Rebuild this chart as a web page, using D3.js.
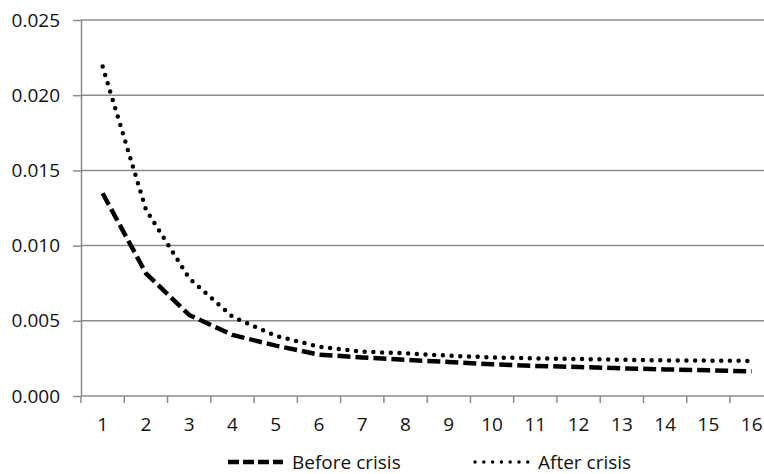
<!DOCTYPE html>
<html>
<head>
<meta charset="utf-8">
<script src="https://cdn.jsdelivr.net/npm/d3@7"></script>
<style>
  body { margin: 0; background: #fff; }
  svg { display: block; font-family: "Open Sans", sans-serif; }
  .grid line { stroke: #8c8c8c; stroke-width: 1.5; }
</style>
</head>
<body>
<div id="chart"></div>
<script>
var periodos = ["1", "2", "3", "4", "5", "6", "7", "8", "9", "10", "11", "12", "13", "14", "15", "16"]
var antesCrisis = [0.01348, 0.00816, 0.00539, 0.00406, 0.00335, 0.00275, 0.00256, 0.00240, 0.00226, 0.00211, 0.00200, 0.00193, 0.00184, 0.00177, 0.00171, 0.00164]
var despuesCrisis = [0.0219, 0.0124, 0.00783, 0.00527, 0.00400, 0.00328, 0.00295, 0.00284, 0.00268, 0.00257, 0.00250, 0.00246, 0.00241, 0.00237, 0.00235, 0.00233]
var ticksY = [0, 0.005, 0.010, 0.015, 0.020, 0.025]
var nombresSeries = ["Before crisis", "After crisis"]

var width = 764,
    height = 474,
    margin = { top: 20, left: 81, bottom: 78 };

// la imagen original esta recortada por la derecha
var x = d3.scaleBand()
    .domain(periodos)
    .range([margin.left, margin.left + 16 * 43.27]);

var y = d3.scaleLinear()
    .domain([0, 0.025])
    .range([height - margin.bottom, margin.top]);

var svg = d3.select("#chart").append("svg")
    .attr("width", width)
    .attr("height", height)

svg.append("g")
    .attr("class", "grid")
    .selectAll("line")
    .data(ticksY.slice(1))
    .enter().append("line")
    .attr("x1", margin.left)
    .attr("x2", width)
    .attr("y1", function (d) { return y(d); })
    .attr("y2", function (d) { return y(d); });

var ejeY = svg.append("g")
    .attr("transform", "translate(" + margin.left + ",0)")
    .call(d3.axisLeft(y).tickValues(ticksY).tickFormat(d3.format(".3f")).tickSizeInner(8).tickSizeOuter(0).tickPadding(13))
ejeY.select(".domain").attr("stroke", "#8c8c8c").attr("stroke-width", 1.5)
ejeY.selectAll(".tick line").attr("stroke", "#8c8c8c").attr("stroke-width", 1.5)
ejeY.selectAll("text").attr("fill", "#111").style("font-size", "19px").style("font-family", "Open Sans")

var ejeX = svg.append("g")
    .attr("transform", "translate(0," + y(0) + ")")
    .call(d3.axisBottom(x).tickSize(0).tickPadding(22))
ejeX.select(".domain").remove()
ejeX.append("line")
    .attr("x1", margin.left).attr("x2", width)
    .attr("stroke", "#8c8c8c").attr("stroke-width", 1.5)
ejeX.selectAll(".limite")
    .data(periodos)
    .enter().append("line")
    .attr("class", "limite")
    .attr("x1", function (d) { return x(d); })
    .attr("x2", function (d) { return x(d); })
    .attr("y2", 7)
    .attr("stroke", "#8c8c8c").attr("stroke-width", 1.5)
ejeX.selectAll("text").attr("fill", "#111").style("font-size", "19px").style("font-family", "Open Sans")

var linea = d3.line()
    .x(function (d, i) { return x(periodos[i]) + x.bandwidth() / 2; })
    .y(function (d) { return y(d); })
    .curve(d3.curveLinear)

svg.append("path")
    .datum(antesCrisis)
    .attr("fill", "none")
    .attr("stroke", "#000")
    .attr("stroke-width", 4.5)
    .attr("stroke-dasharray", "13 5")
    .attr("d", linea)

svg.append("path")
    .datum(despuesCrisis)
    .attr("fill", "none")
    .attr("stroke", "#000")
    .attr("stroke-width", 4.5)
    .attr("stroke-linecap", "round")
    .attr("stroke-dasharray", "0 8.7")
    .attr("d", linea)

// leyenda
var leyenda = svg.append("g").attr("transform", "translate(0,462)")

leyenda.append("line")
    .attr("x1", 228).attr("x2", 283)
    .attr("stroke", "#000").attr("stroke-width", 4.5)
    .attr("stroke-dasharray", "11 4")
leyenda.append("text")
    .attr("x", 292).attr("dy", ".35em")
    .style("font-size", "19px").attr("fill", "#111")
    .text(nombresSeries[0])

leyenda.append("line")
    .attr("x1", 475).attr("x2", 528)
    .attr("stroke", "#000").attr("stroke-width", 3.5)
    .attr("stroke-linecap", "round")
    .attr("stroke-dasharray", "0 8.8")
leyenda.append("text")
    .attr("x", 538).attr("dy", ".35em")
    .style("font-size", "19px").attr("fill", "#111")
    .text(nombresSeries[1])
</script>
</body>
</html>
